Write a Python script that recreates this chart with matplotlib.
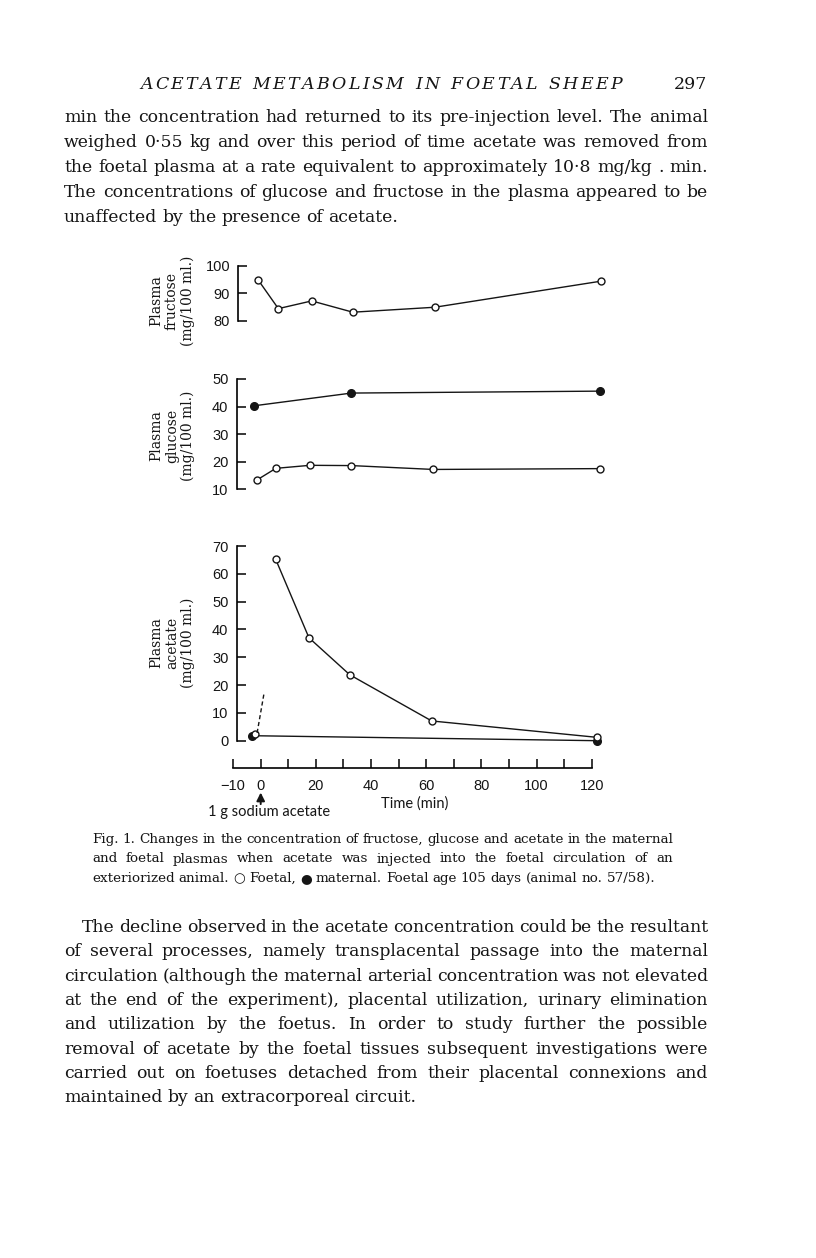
import matplotlib
matplotlib.use("Agg")
import matplotlib.pyplot as plt

# ---- chart data ----
fructose_t = [-0.9, 6.4, 18.5, 33.4, 63.1, 123.5]
fructose_foetal = [94.9, 84.5, 87.3, 83.2, 85.0, 94.5]

glucose_mat_t = [-2.3, 32.9, 123.0]
glucose_maternal = [40.3, 44.9, 45.6]
glucose_foe_t = [-1.5, 5.5, 17.9, 32.9, 62.6, 123.0]
glucose_foetal = [13.3, 17.6, 18.7, 18.6, 17.2, 17.5]

acetate_foe_t = [5.4, 17.5, 32.3, 62.0, 122.0]
acetate_foetal = [65.3, 37.0, 23.7, 7.1, 1.2]
acetate_pre_t = [-2.2]
acetate_pre = [2.3]
acetate_mat_t = [-3.3, 122.0]
acetate_maternal = [1.8, 0.0]
injection_trace_t = [-1.3, 1.2]
injection_trace = [2.8, 17.0]

x_ticks = list(range(-10, 121, 10))
x_labels = ["\u221210", "0", "", "20", "", "40", "", "60", "", "80", "", "100", "", "120"]

# ---- page text ----
header_words = ["ACETATE", "METABOLISM", "IN", "FOETAL", "SHEEP"]
page_no = "297"
top_par = [
    "min the concentration had returned to its pre-injection level. The animal",
    "weighed 0\u00b755 kg and over this period of time acetate was removed from",
    "the foetal plasma at a rate equivalent to approximately 10\u00b78 mg/kg . min.",
    "The concentrations of glucose and fructose in the plasma appeared to be",
    "unaffected by the presence of acetate.",
]
caption = [
    "Fig. 1.  Changes in the concentration of fructose, glucose and acetate in the maternal",
    "and foetal plasmas when acetate was injected into the foetal circulation of an",
    "exteriorized animal. \u25cb Foetal, \u25cf maternal. Foetal age 105 days (animal no. 57/58).",
]
bottom_par = [
    "The decline observed in the acetate concentration could be the resultant",
    "of several processes, namely transplacental passage into the maternal",
    "circulation (although the maternal arterial concentration was not elevated",
    "at the end of the experiment), placental utilization, urinary elimination",
    "and utilization by the foetus. In order to study further the possible",
    "removal of acetate by the foetal tissues subsequent investigations were",
    "carried out on foetuses detached from their placental connexions and",
    "maintained by an extracorporeal circuit.",
]

W, H = 816, 1258
INK = "#151515"
SERIF = ["DejaVu Serif", "DejaVu Sans"]

plt.rcParams["font.family"] = ["Liberation Sans", "DejaVu Sans"]

fig = plt.figure(figsize=(W / 100, H / 100), dpi=100)
fig.patch.set_facecolor("white")
renderer = fig.canvas.get_renderer()


def place_tokens(tokens, x0, x1, y, size, justify=True, extra=None, **kw):
    arts = [fig.text(0, 1 - y / H, t, fontsize=size, va="baseline", ha="left",
                     color=INK, **kw) for t in tokens]
    widths = [a.get_window_extent(renderer=renderer).width for a in arts]
    extra = extra or [0] * len(tokens)
    gap = size * 100 / 72 * 0.3
    if justify and len(tokens) > 1:
        gap = max((x1 - x0 - sum(widths) - sum(extra)) / (len(tokens) - 1), 2)
    x = x0
    for a, w, e in zip(arts, widths, extra):
        x += e
        a.set_x(x / W)
        x += w + gap


def paragraph(lines, x0, x1, y0, step, size, indent=0):
    for i, line in enumerate(lines):
        last = i == len(lines) - 1
        place_tokens(line.split(), x0 + (indent if i == 0 else 0), x1,
                     y0 + i * step, size, justify=not last, family=SERIF)


# running header, letter spaced
letters, extra = [], []
for j, word in enumerate(header_words):
    for k, ch in enumerate(word):
        letters.append(ch)
        extra.append(9 if (k == 0 and j > 0) else 0)
place_tokens(letters, 140, 622, 89, 12.5, extra=extra, family=SERIF, style="italic")
fig.text(707 / W, 1 - 89 / H, page_no, fontsize=12.5, ha="right", va="baseline",
         color=INK, family=SERIF)

paragraph(top_par, 64, 708, 122, 25, 12.4)
paragraph(caption, 92, 673, 843, 19.5, 9.7)
paragraph(bottom_par, 64, 708, 932, 24.3, 12.4, indent=18)

# ---- chart ----
X_MIN, X_MAX = -10, 124
PX0 = 260.7 - 10 * 2.758
PX1 = 260.7 + 124 * 2.758


def panel(top, bottom, ylo, yhi, ticks, spine_x):
    ax = fig.add_axes([PX0 / W, 1 - bottom / H, (PX1 - PX0) / W, (bottom - top) / H])
    ax.set_xlim(X_MIN, X_MAX)
    ax.set_ylim(ylo, yhi)
    ax.patch.set_visible(False)
    for s in ["top", "right", "bottom"]:
        ax.spines[s].set_visible(False)
    ax.spines["left"].set_position(("data", spine_x))
    ax.spines["left"].set_bounds(ylo, yhi)
    ax.spines["left"].set_linewidth(1.2)
    ax.set_yticks(ticks)
    ax.tick_params(axis="y", direction="in", length=6.5, width=1.2,
                   labelsize=10.5, pad=6, colors=INK)
    ax.set_xticks([])
    return ax


def ylabel(text, ycen):
    fig.text(172 / W, 1 - ycen / H, text, rotation=90, ha="center", va="center",
             multialignment="center", family=SERIF, fontsize=10, linespacing=1.15,
             color=INK)


open_kw = dict(marker="o", ms=5, mfc="white", mec=INK, mew=1.0, color=INK, lw=1.0, clip_on=False)
fill_kw = dict(marker="o", ms=5.5, mfc=INK, mec=INK, mew=1.0, color=INK, lw=1.0, clip_on=False)

ax1 = panel(266, 321, 80, 100, [80, 90, 100], -8.1)
ax1.plot(fructose_t, fructose_foetal, **open_kw)
ylabel("Plasma\nfructose\n(mg/100 ml.)", 301)

ax2 = panel(379, 489.3, 10, 50, [10, 20, 30, 40, 50], -8.7)
ax2.plot(glucose_mat_t, glucose_maternal, **fill_kw)
ax2.plot(glucose_foe_t, glucose_foetal, **open_kw)
ylabel("Plasma\nglucose\n(mg/100 ml.)", 436)

ax3 = panel(546, 740.7, 0, 70, list(range(0, 71, 10)), -8.7)
ax3.plot(acetate_mat_t, acetate_maternal, **fill_kw)
ax3.plot(acetate_pre_t, acetate_pre, ls="none", **{k: v for k, v in open_kw.items() if k != "color"})
ax3.plot(acetate_foe_t, acetate_foetal, **open_kw)
ax3.plot(injection_trace_t, injection_trace, color=INK, lw=1.0, ls=(0, (3, 2)))
ylabel("Plasma\nacetate\n(mg/100 ml.)", 643)

ax3.spines["bottom"].set_visible(True)
ax3.spines["bottom"].set_position(("outward", 19.5))
ax3.spines["bottom"].set_bounds(-10, 120)
ax3.spines["bottom"].set_linewidth(1.2)
ax3.set_xticks(x_ticks)
ax3.set_xticklabels(x_labels)
ax3.tick_params(axis="x", direction="in", length=6.5, width=1.2,
                labelsize=10.5, pad=8, colors=INK)

# injection arrow and labels
ax3.annotate("", xy=(0, -0.252), xytext=(0, -0.34),
             xycoords=ax3.get_xaxis_transform(), textcoords=ax3.get_xaxis_transform(),
             arrowprops=dict(arrowstyle="-|>", lw=1.4, color=INK, mutation_scale=12),
             annotation_clip=False)
fig.text(208 / W, 1 - 816 / H, "1 g sodium acetate", family="Lato", fontsize=10.5,
         va="baseline", ha="left", color=INK)
fig.text(415 / W, 1 - 808 / H, "Time (min)", family="Lato", fontsize=10.5,
         va="baseline", ha="center", color=INK)

fig.savefig("out.png", dpi=100, facecolor="white")
